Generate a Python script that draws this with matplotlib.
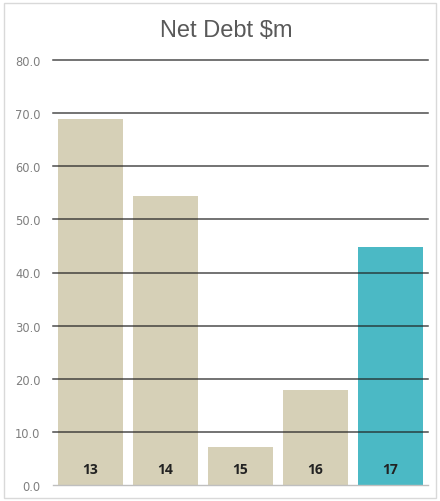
import matplotlib.pyplot as plt
from matplotlib.patches import Rectangle

years = ["13", "14", "15", "16", "17"]
net_debt = [68.9, 54.4, 7.2, 17.9, 44.8]
bar_colors = ["#d6d0b7", "#d6d0b7", "#d6d0b7", "#d6d0b7", "#4bb9c5"]
yticks = [0, 10, 20, 30, 40, 50, 60, 70, 80]

fig = plt.figure(figsize=(4.4, 5.02), dpi=100)
fig.patches.append(Rectangle((0.009, 0.006), 0.983, 0.986, transform=fig.transFigure,
                             fill=False, edgecolor="#d9d9d9", linewidth=1.0))

# axes box in pixels: x 53..428, y(0)=486, y(80)=61
ax = fig.add_axes([53/440, (502-486)/502, 375/440, 425/502])

x = range(len(years))
ax.bar(x, net_debt, width=0.87, color=bar_colors, zorder=1)
for i, v in enumerate(net_debt):
    ax.text(i, 3.0, years[i], ha="center", va="center", fontsize=10,
            fontweight="bold", color="#222222", family="Open Sans")

for t in yticks[1:]:
    ax.axhline(t, color="#202020", alpha=0.8, linewidth=1.1, zorder=2, clip_on=False)
ax.axhline(0, color="#bfbfbf", linewidth=1.0, zorder=2, clip_on=False)

ax.set_xlim(-0.5, 4.5)
ax.set_ylim(0, 80)
ax.set_yticks(yticks)
ax.set_yticklabels([f"{t:.1f}" for t in yticks], fontsize=8.3, color="#7f7f7f")
ax.tick_params(axis="y", length=0, pad=9)
ax.set_xticks([])
for s in ax.spines.values():
    s.set_visible(False)

fig.text(226/440, 1 - 31/502, "Net Debt $m", ha="center", va="center",
         fontsize=17, color="#595959", family="Liberation Sans")

fig.savefig("out.png", dpi=100)
